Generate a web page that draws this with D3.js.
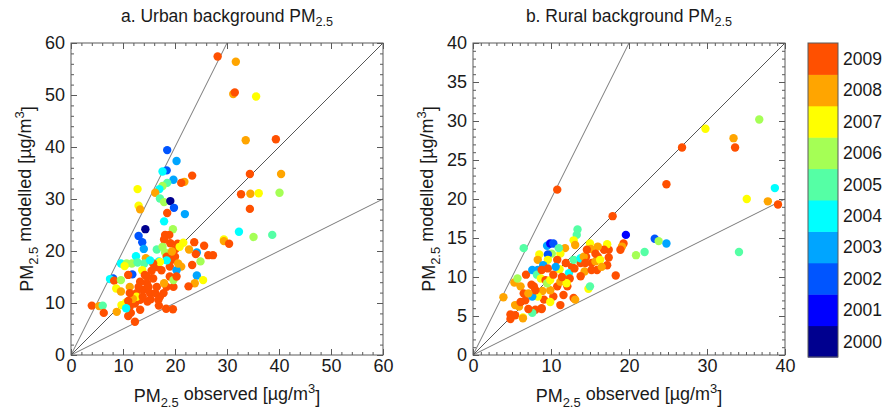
<!DOCTYPE html>
<html>
<head>
<meta charset="utf-8">
<script src="https://cdn.jsdelivr.net/npm/d3@7"></script>
<style>
  html, body { margin: 0; padding: 0; background: #fff; }
  svg { display: block; font-family: "Liberation Sans", Arial, sans-serif; }
</style>
</head>
<body>
<svg id="chart" width="882" height="413"></svg>
<script>
// Years and their colour classes (jet-like discrete scale)
const years = [2000, 2001, 2002, 2003, 2004, 2005, 2006, 2007, 2008, 2009];
const yearColors = ["#00008f", "#0000ff", "#0055ff", "#00a5ff", "#00ffff",
                    "#55ffa5", "#a5ff55", "#ffff00", "#ffa500", "#ff5000"];

// a. Urban background stations: observed, modelled, year
const urbanObs = [
  28.2, 31.7, 31.2, 31.5, 35.6, 33.6, 39.4, 34.4, 40.4, 32.7, 34.5, 36.1, 40.1, 34.4, 32.3, 35.1, 38.7, 29.4, 29.4, 30.4,
  18.5, 20.3, 18.4, 17.6, 23.3, 19.7, 18.5, 17.6, 21.8, 21.2, 17.0, 16.2, 12.8, 17.1, 17.9, 19.1, 19.8, 13.0, 13.3, 18.5,
  21.9, 17.9, 14.3, 13.0, 13.7, 14.0, 19.6, 18.1, 18.9, 17.9, 19.1, 20.5, 21.6, 23.7, 25.6, 24.2, 24.0, 26.4, 27.3, 22.7,
  24.9, 23.3, 21.2, 24.2, 25.4, 23.8, 22.6, 16.5, 18.1, 20.1, 14.4, 12.5, 9.6, 10.7, 11.7, 12.8, 14.1, 16.9, 10.3, 13.7,
  11.8, 11.0, 8.1, 7.5, 8.3, 9.6, 8.7, 9.6, 11.3, 4.0, 5.4, 6.1, 6.3, 8.8, 9.7, 12.3, 18.3, 19.6,
  11.0, 11.3, 12.3, 13.3, 14.7, 16.9, 15.2, 13.9, 12.6, 16.5, 17.1, 18.4, 19.7, 19.0, 15.8, 14.6, 13.3, 14.6, 17.4, 16.5,
  19.0, 19.4, 18.4, 20.0, 15.5, 14.2,
  12.6, 11.9, 10.6, 17.9, 20.3, 19.7, 20.3, 20.6, 18.4, 17.1, 15.8, 15.2, 17.6, 19.4, 20.9,
  14.9, 13.0, 11.3, 16.2, 17.8, 16.8, 13.3, 11.5, 13.8, 15.3, 11.0, 10.6
];
const urbanMod = [
  57.4, 56.4, 50.2, 50.5, 49.7, 41.3, 41.5, 34.8, 34.8, 30.9, 31.0, 31.1, 31.2, 28.1, 23.7, 22.7, 23.1, 22.2, 21.9, 21.4,
  39.4, 37.3, 35.5, 35.3, 34.5, 33.7, 33.1, 32.5, 33.3, 33.1, 31.9, 31.2, 31.9, 30.1, 29.4, 29.6, 28.3, 28.7, 28.0, 27.3,
  27.1, 25.7, 24.2, 22.9, 21.7, 20.4, 24.2, 23.1, 23.1, 22.2, 21.5, 21.4, 21.6, 21.7, 21.0, 19.7, 19.4, 19.2, 19.2, 20.3,
  18.0, 17.3, 17.0, 15.3, 14.4, 13.8, 13.2, 20.3, 19.7, 20.4, 18.6, 19.0, 17.6, 17.6, 17.6, 17.8, 17.6, 18.0, 17.1, 16.3,
  15.5, 15.4, 14.7, 14.6, 14.3, 14.4, 12.8, 12.2, 13.1, 9.5, 9.4, 9.5, 8.1, 8.3, 9.6, 6.4, 8.9, 8.8,
  7.5, 9.3, 9.9, 10.6, 10.3, 9.5, 11.9, 12.5, 11.9, 13.1, 11.2, 13.1, 13.1, 15.1, 14.7, 13.8, 14.1, 15.1, 16.3, 16.9,
  17.0, 18.3, 18.9, 18.9, 16.2, 15.4,
  11.2, 10.8, 10.1, 13.8, 16.3, 14.4, 15.1, 17.6, 18.2, 17.9, 17.6, 18.2, 20.8, 19.9, 20.8,
  13.1, 13.1, 11.9, 11.9, 11.9, 10.6, 8.7, 8.1, 11.2, 10.7, 10.4, 9.0
];
const urbanYear = [
  2009, 2008, 2008, 2009, 2007, 2008, 2009, 2009, 2008, 2009, 2008, 2007, 2006, 2009, 2004, 2006, 2005, 2007, 2008, 2009,
  2002, 2003, 2002, 2004, 2009, 2003, 2005, 2006, 2008, 2009, 2004, 2008, 2007, 2005, 2006, 2000, 2002, 2007, 2008, 2009,
  2003, 2004, 2000, 2002, 2002, 2003, 2006, 2009, 2009, 2009, 2009, 2009, 2007, 2009, 2009, 2003, 2009, 2009, 2009, 2008,
  2006, 2009, 2008, 2003, 2007, 2008, 2009, 2005, 2006, 2009, 2008, 2004, 2004, 2006, 2006, 2005, 2005, 2004, 2007, 2007,
  2002, 2009, 2002, 2004, 2009, 2006, 2007, 2008, 2008, 2009, 2008, 2005, 2009, 2008, 2007, 2009, 2009, 2009,
  2009, 2009, 2009, 2009, 2009, 2009, 2009, 2009, 2009, 2009, 2009, 2009, 2009, 2009, 2009, 2009, 2009, 2009, 2009, 2009,
  2009, 2009, 2009, 2009, 2009, 2009,
  2007, 2008, 2007, 2008, 2003, 2006, 2009, 2008, 2004, 2007, 2009, 2004, 2006, 2008, 2007,
  2009, 2009, 2009, 2009, 2009, 2009, 2009, 2009, 2009, 2009, 2009, 2004
];

// b. Rural background stations: observed, modelled, year
const ruralObs = [
  10.8, 26.8, 29.8, 36.7, 33.4, 33.6, 24.8, 38.7, 35.1, 37.8, 39.1, 17.9, 19.6, 23.3, 23.8, 24.8, 22.0, 20.9, 34.1, 19.3,
  19.1, 18.9, 18.3, 17.2, 17.4, 17.4, 17.2, 16.8, 16.0, 16.0, 15.0, 15.1, 14.5, 15.2, 15.9, 15.7, 13.8, 13.3, 13.4, 12.9,
  13.1, 11.8, 11.2, 10.8, 11.9, 12.7, 12.9, 13.8, 12.3, 11.6, 12.9, 13.1, 14.8, 15.0, 11.2, 10.3, 11.6, 10.8, 9.9, 9.1,
  9.9, 8.8, 8.8, 8.0, 7.6, 7.1, 6.7, 5.9, 5.4, 6.1, 4.8, 5.4, 4.8, 6.4, 6.4, 3.9, 5.3, 5.7, 6.1, 6.5,
  6.8, 7.5, 7.8, 6.5, 8.5, 9.5, 9.9, 10.3, 11.0, 10.1, 9.6, 8.3, 9.6, 9.0, 8.3, 7.6, 8.2, 8.8, 9.6, 8.7,
  9.3, 9.5, 9.9, 10.3, 11.1, 10.6, 11.2, 12.1, 12.4, 13.0, 14.3, 13.8, 8.9, 8.3, 7.6, 8.0, 7.1, 12.0, 11.4, 14.2,
  14.6, 15.7, 16.3, 16.5, 15.2, 14.4
];
const ruralMod = [
  21.2, 26.6, 29.0, 30.2, 27.8, 26.6, 21.9, 21.4, 20.0, 19.7, 19.3, 17.8, 15.4, 14.9, 14.6, 14.3, 13.2, 12.8, 13.2, 14.3,
  13.9, 13.5, 10.2, 11.5, 12.5, 13.5, 14.2, 13.5, 12.6, 13.9, 14.3, 13.6, 12.6, 11.8, 10.9, 12.0, 11.8, 15.4, 16.1, 14.7,
  14.1, 13.7, 13.0, 12.2, 11.8, 11.3, 12.2, 12.4, 10.5, 9.8, 7.3, 7.1, 8.5, 8.8, 6.4, 7.5, 7.7, 8.8, 8.3, 7.1,
  6.8, 6.0, 5.9, 5.8, 5.4, 5.9, 7.0, 6.2, 6.4, 6.8, 5.2, 5.1, 4.6, 4.8, 4.7, 7.4, 9.3, 9.8, 8.8, 7.9,
  10.3, 9.0, 8.8, 13.7, 12.9, 14.0, 14.3, 14.3, 13.7, 13.0, 12.9, 12.2, 12.2, 11.5, 10.9, 10.9, 10.3, 10.9, 11.1, 9.8,
  9.6, 9.2, 9.6, 10.3, 11.0, 11.3, 9.4, 8.8, 9.8, 11.1, 10.7, 10.1, 8.2, 7.5, 7.5, 8.3, 7.9, 9.2, 10.0, 12.6,
  13.5, 13.0, 12.2, 11.3, 10.9, 11.8
];
const ruralYear = [
  2009, 2009, 2007, 2006, 2008, 2009, 2009, 2004, 2007, 2008, 2009, 2009, 2001, 2002, 2006, 2003, 2005, 2006, 2005, 2009,
  2008, 2009, 2009, 2009, 2009, 2009, 2007, 2009, 2009, 2008, 2007, 2008, 2009, 2009, 2009, 2008, 2009, 2005, 2005, 2007,
  2008, 2008, 2007, 2009, 2009, 2009, 2005, 2004, 2004, 2007, 2009, 2008, 2007, 2005, 2009, 2009, 2009, 2009, 2008, 2009,
  2007, 2009, 2009, 2009, 2005, 2009, 2009, 2008, 2008, 2009, 2009, 2009, 2009, 2007, 2008, 2008, 2008, 2006, 2008, 2009,
  2009, 2009, 2009, 2005, 2007, 2003, 2001, 2002, 2005, 2006, 2002, 2008, 2007, 2003, 2003, 2003, 2005, 2009, 2009, 2007,
  2009, 2006, 2007, 2009, 2007, 2003, 2008, 2009, 2009, 2009, 2008, 2009, 2008, 2007, 2003, 2009, 2008, 2007, 2009, 2008,
  2009, 2009, 2007, 2008, 2009, 2009
];

// Reference lines through the origin: 2:1, 1:1, 1:2
const lineSlopes = [2, 1, 0.5];

const svg = d3.select("#chart");
const size = 312;
const plotTop = 43;
const frameColor = "#5a5a5a";
const textColor = "#1a1a1a";
const color = d3.scaleOrdinal().domain(years).range(yearColors);

const panels = [
  { left: 71, max: 60, step: 10, minor: 2, obs: urbanObs, mod: urbanMod, year: urbanYear,
    title: "a. Urban background PM" },
  { left: 473, max: 40, xStep: 10, step: 5, minor: 1, obs: ruralObs, mod: ruralMod, year: ruralYear,
    title: "b. Rural background PM" }
];

// Text with a subscript, optionally followed by more text with a superscript
function subText(sel, main, sub, tail, supText, supTail) {
  sel.append("tspan").text(main);
  sel.append("tspan").attr("font-size", "0.72em").attr("dy", "0.35em").text(sub);
  if (tail !== undefined) {
    sel.append("tspan").attr("dy", "-0.35em").text(tail);
    if (supText) {
      sel.append("tspan").attr("font-size", "0.72em").attr("dy", "-0.55em").text(supText);
      sel.append("tspan").attr("dy", "0.55em").text(supTail);
    }
  }
}

panels.forEach((p, pi) => {
  const g = svg.append("g").attr("transform", `translate(${p.left},${plotTop})`);
  const x = d3.scaleLinear().domain([0, p.max]).range([0, size]);
  const y = d3.scaleLinear().domain([0, p.max]).range([size, 0]);
  const xStep = p.xStep || p.step;
  const xMajor = d3.range(0, p.max + 0.001, xStep);
  const yMajor = d3.range(0, p.max + 0.001, p.step);
  const minorT = d3.range(0, p.max + 0.001, p.minor);

  const clipId = "clip" + pi;
  g.append("clipPath").attr("id", clipId).append("rect").attr("width", size).attr("height", size);

  // reference lines
  g.append("g").attr("clip-path", `url(#${clipId})`)
    .selectAll("line").data(lineSlopes).join("line")
    .attr("x1", x(0)).attr("y1", y(0))
    .attr("x2", s => x(s >= 1 ? p.max / s : p.max))
    .attr("y2", s => y(s >= 1 ? p.max : p.max * s))
    .attr("stroke", s => s === 1 ? "#444" : "#6a6a6a")
    .attr("stroke-width", 0.9);

  // points
  const pts = p.obs.map((v, i) => ({ o: v, m: p.mod[i], yr: p.year[i] }));
  g.append("g").attr("clip-path", `url(#${clipId})`)
    .selectAll("circle").data(pts).join("circle")
    .attr("cx", d => x(d.o)).attr("cy", d => y(d.m)).attr("r", 4.2)
    .attr("fill", d => color(d.yr));

  // axes with inward ticks on all four sides
  const styleAxis = sel => {
    sel.selectAll("path.domain").remove();
    sel.selectAll(".tick line").attr("stroke", frameColor);
    sel.selectAll("text").attr("fill", textColor).attr("font-size", 18)
      .attr("font-family", "'Liberation Sans', Arial, sans-serif");
  };
  g.append("g").attr("transform", `translate(0,${size})`)
    .call(d3.axisBottom(x).tickValues(minorT).tickSize(-3).tickFormat("")).call(styleAxis);
  g.append("g").attr("transform", `translate(0,${size})`)
    .call(d3.axisBottom(x).tickValues(xMajor).tickSize(-6).tickPadding(4).tickFormat(d3.format("d"))).call(styleAxis);
  g.append("g")
    .call(d3.axisTop(x).tickValues(minorT).tickSize(-3).tickFormat("")).call(styleAxis);
  g.append("g")
    .call(d3.axisTop(x).tickValues(xMajor).tickSize(-6).tickFormat("")).call(styleAxis);
  g.append("g")
    .call(d3.axisLeft(y).tickValues(minorT).tickSize(-3).tickFormat("")).call(styleAxis);
  g.append("g")
    .call(d3.axisLeft(y).tickValues(yMajor).tickSize(-6).tickPadding(6).tickFormat(d3.format("d"))).call(styleAxis);
  g.append("g").attr("transform", `translate(${size},0)`)
    .call(d3.axisRight(y).tickValues(minorT).tickSize(-3).tickFormat("")).call(styleAxis);
  g.append("g").attr("transform", `translate(${size},0)`)
    .call(d3.axisRight(y).tickValues(yMajor).tickSize(-6).tickFormat("")).call(styleAxis);

  // frame
  g.append("rect").attr("width", size).attr("height", size)
    .attr("fill", "none").attr("stroke", frameColor).attr("stroke-width", 1);

  // title
  svg.append("text").attr("x", p.left + size / 2).attr("y", 22).attr("text-anchor", "middle")
    .attr("font-size", 17.5).attr("fill", textColor)
    .call(t => subText(t, p.title, "2.5"));

  // x label
  svg.append("text").attr("x", p.left + size / 2).attr("y", 402).attr("text-anchor", "middle")
    .attr("font-size", 18).attr("fill", textColor)
    .call(t => subText(t, "PM", "2.5", " observed [µg/m", "3", "]"));

  // y label
  svg.append("text")
    .attr("transform", `translate(${p.left - 38},${plotTop + size / 2}) rotate(-90)`)
    .attr("text-anchor", "middle").attr("font-size", 18).attr("fill", textColor)
    .call(t => subText(t, "PM", "2.5", " modelled [µg/m", "3", "]"));
});

// colour bar
const cb = svg.append("g").attr("transform", "translate(808,43)");
const cbH = 314, cbW = 30;
const cbY = d3.scaleBand().domain(years.slice().reverse()).range([0, cbH]);
cb.selectAll("rect.seg").data(years).join("rect").attr("class", "seg")
  .attr("x", 0).attr("y", d => cbY(d)).attr("width", cbW).attr("height", cbY.bandwidth() + 0.5)
  .attr("fill", d => color(d));
cb.append("rect").attr("width", cbW).attr("height", cbH)
  .attr("fill", "none").attr("stroke", frameColor).attr("stroke-width", 1);
cb.selectAll("text").data(years).join("text")
  .attr("x", cbW + 5).attr("y", d => cbY(d) + cbY.bandwidth() / 2)
  .attr("dy", "0.36em").attr("font-size", 17.5).attr("fill", textColor)
  .text(d => d);
</script>
</body>
</html>
